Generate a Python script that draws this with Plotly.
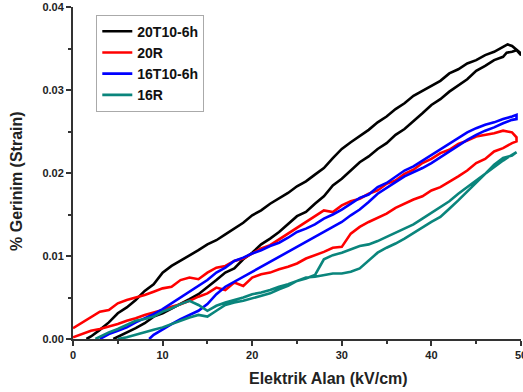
import plotly.graph_objects as go

# ---------------- data ----------------
# 20T10-6h (black)
b_up_x = [1.5, 2, 3, 4, 5, 6, 7, 8, 9, 10, 11, 12, 13, 14, 15, 16, 17, 18, 19, 20, 21, 22, 23, 24, 25,
          26, 27, 28, 29, 30, 31, 32, 33, 34, 35, 36, 37, 38, 39, 40, 41, 42, 43, 44, 45, 46, 47, 48, 48.5, 49, 49.5, 50]
b_up_y = [0.0000, 0.0003, 0.0011, 0.0020, 0.0031, 0.0038, 0.0047, 0.0058, 0.0066, 0.0080, 0.0088, 0.0094, 0.0101,
          0.0107, 0.0114, 0.0119, 0.0126, 0.0133, 0.0140, 0.0149, 0.0155, 0.0163, 0.0169, 0.0176, 0.0184, 0.0190,
          0.0198, 0.0206, 0.0218, 0.0229, 0.0237, 0.0244, 0.0252, 0.0261, 0.0268, 0.0277, 0.0284, 0.0293, 0.0299,
          0.0306, 0.0311, 0.0320, 0.0325, 0.0332, 0.0336, 0.0342, 0.0346, 0.0352, 0.0355, 0.0353, 0.0349, 0.0344]
b_dn_x = [50, 49.5, 49, 48.4, 48, 47, 46, 45, 44, 43, 42, 41, 40, 39, 38, 37, 36, 35, 34, 33, 32, 31, 30, 29,
          28, 27, 26, 25, 24, 23, 22, 21, 20, 19, 18, 17, 16, 15, 14, 13, 12, 11, 10, 9, 8, 7, 6, 5, 4.5]
b_dn_y = [0.0342, 0.0348, 0.0346, 0.0345, 0.0340, 0.0336, 0.0329, 0.0323, 0.0313, 0.0306, 0.0298, 0.0289, 0.0282,
          0.0272, 0.0263, 0.0253, 0.0246, 0.0236, 0.0229, 0.0220, 0.0213, 0.0203, 0.0193, 0.0185, 0.0172, 0.0163,
          0.0153, 0.0148, 0.0138, 0.0129, 0.0121, 0.0114, 0.0104, 0.0096, 0.0085, 0.0080, 0.0071, 0.0063, 0.0054,
          0.0048, 0.0042, 0.0037, 0.0031, 0.0027, 0.0019, 0.0013, 0.0008, 0.0003, 0.0000]

# 20R (red)
r_up_x = [0, 1, 2, 3, 4, 5, 6, 7, 8, 9, 10, 11, 12, 13, 14, 15, 16, 17, 18, 19, 20, 21, 22, 23, 24, 25,
          26, 27, 28, 29, 30, 31, 32, 33, 34, 35, 36, 37, 38, 39, 40, 41, 42, 43, 44, 45, 46, 47, 48, 49, 49.5]
r_up_y = [0.0013, 0.0020, 0.0026, 0.0033, 0.0035, 0.0043, 0.0047, 0.0050, 0.0053, 0.0057, 0.0061, 0.0063, 0.0071,
          0.0074, 0.0072, 0.0080, 0.0086, 0.0088, 0.0094, 0.0097, 0.0103, 0.0109, 0.0113, 0.0120, 0.0127, 0.0133,
          0.0141, 0.0148, 0.0155, 0.0153, 0.0161, 0.0166, 0.0169, 0.0175, 0.0179, 0.0187, 0.0191, 0.0199, 0.0204,
          0.0212, 0.0217, 0.0224, 0.0228, 0.0235, 0.0239, 0.0244, 0.0246, 0.0248, 0.0251, 0.0249, 0.0243]
r_dn_x = [49.5, 49, 48, 47, 46, 45, 44, 43, 42, 41, 40, 39, 38, 37, 36, 35, 34, 33, 32, 31, 30, 29, 28, 27,
          26, 25, 24, 23, 22, 21, 20, 19, 18, 17, 16, 15, 14, 13, 12, 11, 10, 9, 8, 7, 6, 5, 4, 3, 2, 1, 0]
r_dn_y = [0.0238, 0.0236, 0.0230, 0.0226, 0.0217, 0.0212, 0.0203, 0.0196, 0.0189, 0.0183, 0.0179, 0.0172, 0.0168,
          0.0163, 0.0158, 0.0151, 0.0146, 0.0141, 0.0135, 0.0127, 0.0111, 0.0110, 0.0105, 0.0101, 0.0097, 0.0091,
          0.0087, 0.0084, 0.0080, 0.0078, 0.0074, 0.0064, 0.0068, 0.0059, 0.0062, 0.0055, 0.0051, 0.0046, 0.0042,
          0.0039, 0.0035, 0.0032, 0.0029, 0.0025, 0.0022, 0.0018, 0.0015, 0.0012, 0.0010, 0.0006, 0.0002]

# 16T10-6h (blue)
u_up_x = [3, 4, 5, 6, 7, 8, 9, 10, 11, 12, 13, 14, 15, 16, 17, 18, 19, 20, 21, 22, 23, 24, 25, 26, 27,
          28, 29, 30, 31, 32, 33, 34, 35, 36, 37, 38, 39, 40, 41, 42, 43, 44, 45, 46, 47, 48, 49, 49.5]
u_up_y = [0.0000, 0.0006, 0.0010, 0.0014, 0.0020, 0.0025, 0.0030, 0.0036, 0.0043, 0.0050, 0.0056, 0.0063, 0.0071,
          0.0080, 0.0086, 0.0094, 0.0098, 0.0103, 0.0107, 0.0112, 0.0116, 0.0122, 0.0129, 0.0133, 0.0138, 0.0145,
          0.0150, 0.0156, 0.0163, 0.0170, 0.0174, 0.0183, 0.0188, 0.0196, 0.0203, 0.0208, 0.0215, 0.0221, 0.0229,
          0.0236, 0.0242, 0.0249, 0.0254, 0.0258, 0.0261, 0.0265, 0.0268, 0.0270]
u_dn_x = [49.5, 49, 48, 47, 46, 45, 44, 43, 42, 41, 40, 39, 38, 37, 36, 35, 34, 33, 32, 31, 30, 29, 28, 27,
          26, 25, 24, 23, 22, 21, 20, 19, 18, 17, 16, 15, 14, 13, 12, 11, 10, 9, 8.5]
u_dn_y = [0.0265, 0.0264, 0.0260, 0.0255, 0.0251, 0.0246, 0.0240, 0.0233, 0.0225, 0.0218, 0.0212, 0.0206, 0.0201,
          0.0196, 0.0189, 0.0182, 0.0175, 0.0165, 0.0156, 0.0149, 0.0141, 0.0135, 0.0129, 0.0124, 0.0118, 0.0112,
          0.0106, 0.0099, 0.0094, 0.0088, 0.0081, 0.0076, 0.0070, 0.0063, 0.0054, 0.0042, 0.0034, 0.0029, 0.0024,
          0.0018, 0.0012, 0.0005, 0.0000]

# 16R (teal)
t_up_x = [2.5, 3, 4, 5, 6, 7, 8, 9, 10, 11, 12, 13, 14, 15, 16, 17, 18, 19, 20, 21, 22, 23, 24, 25, 26,
          27, 28, 29, 30, 31, 32, 33, 34, 35, 36, 37, 38, 39, 40, 41, 42, 43, 44, 45, 46, 47, 48, 49, 49.5]
t_up_y = [0.0000, 0.0003, 0.0008, 0.0012, 0.0017, 0.0022, 0.0024, 0.0027, 0.0033, 0.0037, 0.0042, 0.0046, 0.0041,
          0.0034, 0.0040, 0.0044, 0.0047, 0.0050, 0.0054, 0.0056, 0.0059, 0.0063, 0.0066, 0.0070, 0.0073, 0.0077,
          0.0096, 0.0101, 0.0104, 0.0108, 0.0112, 0.0114, 0.0118, 0.0123, 0.0128, 0.0133, 0.0138, 0.0145, 0.0152,
          0.0159, 0.0166, 0.0175, 0.0183, 0.0192, 0.0200, 0.0208, 0.0215, 0.0222, 0.0225]
t_dn_x = [49.5, 49, 48, 47, 46, 45, 44, 43, 42, 41, 40, 39, 38, 37, 36, 35, 34, 33, 32, 31, 30, 29, 28, 27,
          26, 25, 24, 23, 22, 21, 20, 19, 18, 17, 16, 15, 14, 13, 12, 11, 10, 9, 8, 7, 6, 5]
t_dn_y = [0.0225, 0.0221, 0.0218, 0.0210, 0.0199, 0.0188, 0.0178, 0.0167, 0.0157, 0.0147, 0.0141, 0.0134, 0.0128,
          0.0121, 0.0115, 0.0110, 0.0104, 0.0094, 0.0085, 0.0081, 0.0079, 0.0079, 0.0077, 0.0075, 0.0074, 0.0070,
          0.0064, 0.0060, 0.0055, 0.0052, 0.0049, 0.0046, 0.0044, 0.0041, 0.0034, 0.0027, 0.0029, 0.0026, 0.0022,
          0.0018, 0.0014, 0.0011, 0.0008, 0.0005, 0.0002, 0.0000]

series_names = ["20T10-6h", "20R", "16T10-6h", "16R"]
series_colors = ["#000000", "#ff0000", "#0000ff", "#0a857c"]
series_x = [b_up_x + b_dn_x, r_up_x + r_dn_x, u_up_x + u_dn_x, t_up_x + t_dn_x]
series_y = [b_up_y + b_dn_y, r_up_y + r_dn_y, u_up_y + u_dn_y, t_up_y + t_dn_y]

x_ticks = [0, 10, 20, 30, 40, 50]
y_ticks = [0.00, 0.01, 0.02, 0.03, 0.04]
y_tick_labels = ["0.00", "0.01", "0.02", "0.03", "0.04"]

FONT = "Liberation Sans, Arial, sans-serif"

fig = go.Figure()
for name, color, xs, ys in zip(series_names, series_colors, series_x, series_y):
    fig.add_trace(go.Scatter(x=xs, y=ys, mode="lines", name=name,
                             line=dict(color=color, width=2.6)))

axis_common = dict(showline=True, linecolor="#333333", linewidth=2, mirror=False,
                   ticks="outside", ticklen=5, tickwidth=2, tickcolor="#333333",
                   showgrid=False, zeroline=False, ticklabeloverflow="allow", automargin=False,
                   tickfont=dict(family=FONT, size=11, color="#222222", weight="bold"))

fig.update_xaxes(range=[0, 50], tickvals=x_ticks, ticktext=[str(v) for v in x_ticks],
                 minor=dict(ticks="outside", ticklen=3, tickwidth=2, tickcolor="#333333", dtick=5, tick0=0),
                 **axis_common)
fig.update_yaxes(range=[0, 0.04], tickvals=y_ticks, ticktext=y_tick_labels,
                 minor=dict(ticks="outside", ticklen=3, tickwidth=2, tickcolor="#333333", dtick=0.005, tick0=0),
                 **axis_common)

fig.add_annotation(text="Elektrik Alan (kV/cm)", xref="paper", yref="paper", x=0.571, y=-0.087,
                   xanchor="center", yanchor="top", showarrow=False,
                   font=dict(family=FONT, size=16, color="#222222", weight="bold"))
fig.add_annotation(text="% Gerinim (Strain)", xref="paper", yref="paper", x=-0.125, y=0.476,
                   xanchor="center", yanchor="middle", showarrow=False, textangle=-90,
                   font=dict(family=FONT, size=16, color="#222222", weight="bold"))

fig.update_layout(
    width=523, height=392, autosize=False,
    margin=dict(l=73, r=2, t=7, b=53, pad=0, autoexpand=False),
    paper_bgcolor="white", plot_bgcolor="white",
    showlegend=True,
    legend=dict(x=0.052, y=0.977, xanchor="left", yanchor="top",
                bgcolor="white", bordercolor="#aaaaaa", borderwidth=1,
                font=dict(family=FONT, size=14, color="#111111", weight="bold"),
                tracegroupgap=0, itemwidth=30),
)

fig.write_html("out.html", config={"displayModeBar": False},
               post_script="document.body.style.margin='0';document.body.style.padding='0';")
